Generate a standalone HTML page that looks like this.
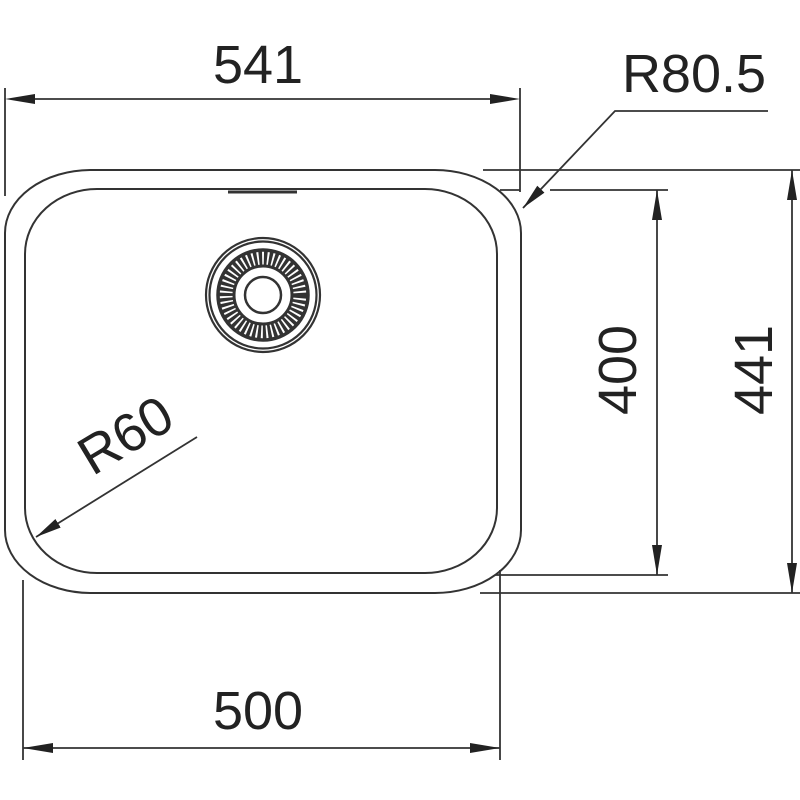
<!DOCTYPE html>
<html><head><style>html,body{margin:0;padding:0;background:#fff;width:800px;height:800px;overflow:hidden}</style></head>
<body>
<svg width="800" height="800" viewBox="0 0 800 800" xmlns="http://www.w3.org/2000/svg">
<defs>
<marker id="a" viewBox="0 0 26 10" refX="26" refY="5" markerWidth="26" markerHeight="10" markerUnits="userSpaceOnUse" orient="auto"><path d="M0,0 L26,5 L0,10 Z" fill="#222"/></marker>
</defs>
<g fill="none" stroke="#333" stroke-width="2">
<path d="M90,170 H435 A86,63 0 0 1 521,233 V530 A86,63 0 0 1 435,593 H90 A86,63 0 0 1 5,530 V233 A86,63 0 0 1 90,170 Z"/>
<path d="M97,189 H425 A72,65 0 0 1 497,254 V508 A72,65 0 0 1 425,573 H97 A72,65 0 0 1 25,508 V254 A72,65 0 0 1 97,189 Z"/>
<path d="M228,192 H297" stroke-width="3"/>
<circle cx="263" cy="295" r="57" stroke-width="2.2"/>
<circle cx="263" cy="295" r="53.5" stroke-width="2.2"/>
<circle cx="263" cy="295" r="45" stroke-width="3.5"/>
<circle cx="263" cy="295" r="37" stroke-width="14" stroke-dasharray="3.2 1.8" stroke="#333"/>
<circle cx="263" cy="295" r="29" stroke-width="3"/>
<circle cx="263" cy="295" r="18" stroke-width="2.5"/>
</g>
<g stroke="#333" stroke-width="1.8" fill="none">
<line x1="5" y1="88" x2="5" y2="196"/>
<line x1="520" y1="88" x2="520" y2="192"/>
<line x1="25" y1="99" x2="500" y2="99"/>
<path d="M5,99 L35,94 L35,104 Z M520,99 L490,94 L490,104 Z" fill="#222" stroke="none"/>
<polyline points="768,111 615,111 523,208" marker-end="url(#a)"/>
<line x1="483" y1="170" x2="800" y2="170"/>
<line x1="500" y1="190" x2="520" y2="190"/>
<line x1="550" y1="190" x2="668" y2="190"/>
<line x1="495" y1="575" x2="668" y2="575"/>
<line x1="480" y1="593" x2="800" y2="593"/>
<line x1="657" y1="190" x2="657" y2="575"/>
<path d="M657,190 L652,220 L662,220 Z M657,575 L652,545 L662,545 Z" fill="#222" stroke="none"/>
<line x1="792" y1="170" x2="792" y2="593"/>
<path d="M792,170 L787,200 L797,200 Z M792,593 L787,563 L797,563 Z" fill="#222" stroke="none"/>
<line x1="23" y1="580" x2="23" y2="760"/>
<line x1="500" y1="570" x2="500" y2="760"/>
<line x1="23" y1="748" x2="500" y2="748"/>
<path d="M23,748 L53,743 L53,753 Z M500,748 L470,743 L470,753 Z" fill="#222" stroke="none"/>
<line x1="197" y1="437" x2="36" y2="537" marker-end="url(#a)"/>
</g>
<g font-family="Liberation Sans, Arial, sans-serif" font-size="54" fill="#222" text-anchor="middle">
<text x="258" y="83">541</text>
<text x="694" y="92">R80.5</text>
<text x="258" y="729">500</text>
<text transform="translate(636,370) rotate(-90)">400</text>
<text transform="translate(772,370) rotate(-90)">441</text>
<text transform="translate(135,451) rotate(-31)">R60</text>
</g>
</svg>
</body></html>
